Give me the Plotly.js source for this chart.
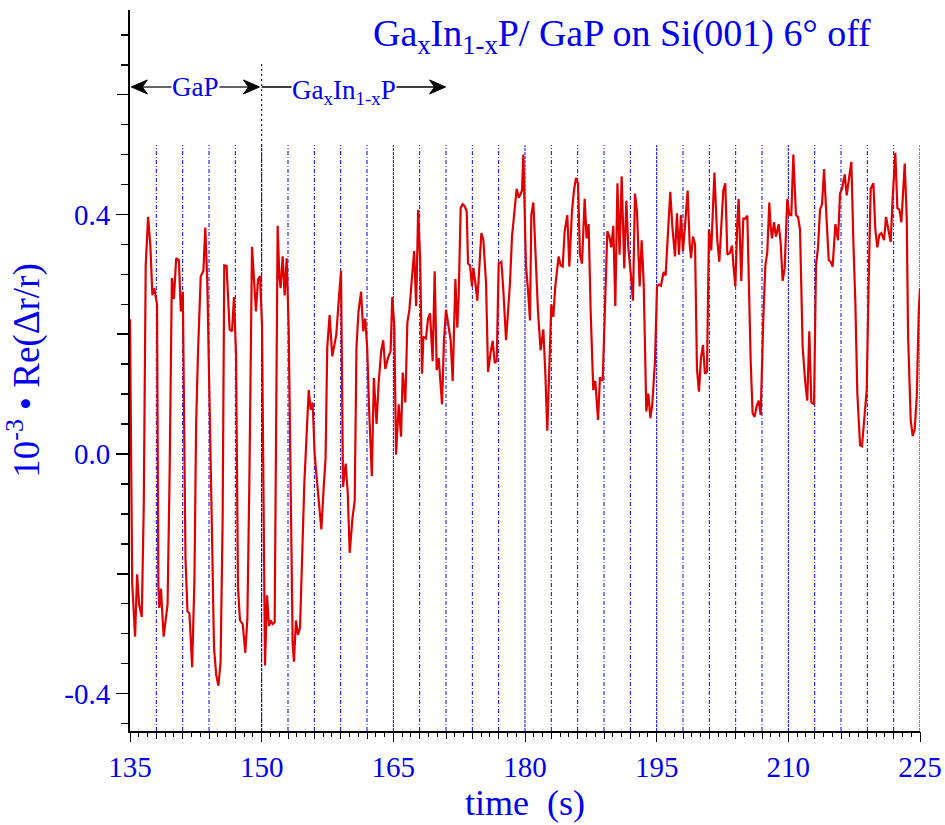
<!DOCTYPE html>
<html>
<head>
<meta charset="utf-8">
<script src="https://cdn.plot.ly/plotly-3.0.1.min.js"></script>
<style>html,body{margin:0;padding:0;background:#fff;}#chart{width:945px;height:825px;}</style>
</head>
<body>
<div id="chart"></div>
<script>
// time (s)
const timeS = [
135.00,135.25,135.58,135.81,136.04,136.34,136.57,136.79,137.06,137.32,137.55,137.77,138.08,138.23,138.34,138.53,138.83,139.28,139.51,139.77,
140.00,140.26,140.57,140.79,141.02,141.32,141.55,141.77,142.08,142.34,142.53,142.75,143.06,143.36,143.58,143.81,144.34,144.57,144.82,145.07,
145.32,145.55,145.74,146.00,146.35,146.62,146.85,147.08,147.30,147.53,147.84,148.14,148.37,148.59,148.90,149.13,149.35,149.58,149.81,150.04,
150.38,150.61,150.84,151.03,151.25,151.48,151.82,152.01,152.16,152.39,152.62,152.85,153.08,153.53,153.68,153.91,154.14,154.37,154.86,155.36,
155.58,155.81,156.04,156.27,156.57,156.80,157.05,157.28,157.47,157.74,158.04,158.27,158.50,158.81,159.04,159.27,159.57,159.80,160.03,160.34,
160.60,160.80,161.03,161.33,161.56,161.79,162.02,162.25,162.55,162.78,163.09,163.32,163.62,163.85,164.08,164.39,164.69,164.88,165.11,165.31,
165.61,165.88,166.07,166.37,166.60,166.83,167.14,167.37,167.60,167.83,168.06,168.27,168.42,168.72,168.95,169.18,169.48,169.71,169.94,170.17,
170.55,170.77,171.00,171.23,171.53,171.76,172.07,172.29,172.45,172.67,172.90,173.13,173.36,173.51,173.74,173.96,174.12,174.34,174.57,175.03,
175.26,175.56,175.79,176.09,176.32,176.55,176.78,177.00,177.31,177.53,177.84,178.07,178.29,178.52,178.83,179.05,179.30,179.45,179.66,179.81,
180.11,180.34,180.57,180.72,180.95,181.17,181.48,181.78,182.09,182.31,182.54,182.77,183.00,183.23,183.45,183.83,184.06,184.29,184.52,184.82,
185.05,185.35,185.58,185.81,186.04,186.26,186.49,186.80,187.02,187.25,187.48,187.78,188.01,188.32,188.54,188.85,189.15,189.38,189.61,189.83,
190.06,190.29,190.53,190.78,191.01,191.31,191.54,191.77,192.07,192.30,192.53,192.76,193.06,193.29,193.52,193.82,194.05,194.28,194.50,194.81,
195.04,195.26,195.49,195.79,196.02,196.33,196.55,196.78,197.09,197.31,197.54,197.77,198.00,198.23,198.53,198.76,198.91,199.14,199.37,199.59,
199.82,200.05,200.28,200.50,200.73,200.96,201.22,201.58,201.91,202.14,202.44,202.59,202.82,203.05,203.35,203.58,203.73,203.96,204.19,204.34,
204.64,204.87,205.10,205.33,205.71,205.93,206.16,206.39,206.62,206.85,207.15,207.38,207.60,207.83,207.98,208.14,208.36,208.59,208.90,209.12,
209.35,209.58,209.88,210.11,210.34,210.57,210.87,211.10,211.33,211.63,211.93,212.16,212.39,212.62,212.93,213.15,213.38,213.61,213.84,214.07,
214.29,214.60,214.82,215.05,215.36,215.66,215.89,216.12,216.42,216.65,216.95,217.18,217.41,217.64,217.86,218.17,218.39,218.62,218.93,219.15,
219.38,219.69,219.91,220.14,220.37,220.60,220.90,221.13,221.43,221.66,221.89,222.19,222.42,222.65,222.88,223.03,223.26,223.49,223.64,223.94,
224.17,224.40,224.63,224.86,225.00
];
// 10^-3 * Re(dr/r)
const reflectance = [
0.225,-0.216,-0.305,-0.201,-0.251,-0.272,-0.084,0.315,0.396,0.348,0.265,0.277,0.250,-0.222,-0.257,-0.225,-0.305,-0.251,-0.037,0.294,
0.259,0.327,0.324,0.238,0.271,-0.174,-0.263,-0.266,-0.356,-0.210,0.047,0.172,0.297,0.306,0.378,0.285,-0.132,-0.323,-0.369,-0.387,
-0.347,-0.114,0.315,0.314,0.208,0.205,0.262,0.166,-0.222,-0.278,-0.284,-0.332,-0.275,-0.055,0.346,0.285,0.238,0.291,0.297,0.214,
-0.353,-0.236,-0.287,-0.278,-0.284,-0.281,0.381,0.297,0.277,0.330,0.265,0.327,0.208,-0.317,-0.347,-0.278,-0.302,-0.290,-0.049,0.107,
0.074,0.086,-0.001,-0.040,-0.090,-0.126,-0.060,-0.007,0.178,0.232,0.163,0.184,0.199,0.262,0.306,-0.055,-0.016,-0.063,-0.165,-0.108,
-0.078,0.178,0.238,0.271,0.205,0.226,0.178,0.071,-0.037,0.127,0.050,0.118,0.172,0.190,0.142,0.160,0.172,0.262,0.214,-0.001,
0.083,0.029,0.136,0.086,0.220,0.241,0.297,0.339,0.247,0.408,0.321,0.134,0.196,0.193,0.226,0.235,0.155,0.305,0.140,0.160,
0.083,0.190,0.241,0.220,0.190,0.122,0.292,0.211,0.265,0.411,0.417,0.414,0.405,0.318,0.315,0.280,0.311,0.286,0.256,0.369,
0.357,0.286,0.137,0.170,0.189,0.152,0.155,0.318,0.321,0.274,0.190,0.238,0.286,0.363,0.405,0.443,0.428,0.432,0.440,0.500,
0.315,0.274,0.223,0.399,0.420,0.345,0.238,0.173,0.208,0.137,0.039,0.143,0.250,0.229,0.280,0.330,0.315,0.313,0.372,0.399,
0.313,0.405,0.440,0.461,0.452,0.333,0.318,0.426,0.360,0.384,0.238,0.107,0.122,0.057,0.128,0.122,0.250,0.372,0.363,0.345,
0.381,0.247,0.452,0.333,0.464,0.310,0.423,0.345,0.298,0.256,0.435,0.405,0.280,0.357,0.286,0.071,0.101,0.060,0.083,0.155,
0.280,0.283,0.281,0.304,0.298,0.381,0.438,0.381,0.330,0.402,0.333,0.399,0.339,0.381,0.440,0.351,0.327,0.363,0.351,0.143,
0.104,0.161,0.182,0.134,0.137,0.375,0.340,0.470,0.357,0.321,0.390,0.440,0.452,0.333,0.336,0.348,0.318,0.280,0.387,0.426,
0.289,0.393,0.393,0.398,0.155,0.068,0.062,0.080,0.089,0.065,0.226,0.315,0.336,0.420,0.381,0.360,0.387,0.363,0.384,0.354,
0.289,0.310,0.426,0.399,0.399,0.500,0.399,0.396,0.375,0.179,0.119,0.089,0.205,0.086,0.083,0.315,0.345,0.408,0.417,0.476,
0.411,0.324,0.321,0.313,0.384,0.357,0.435,0.443,0.467,0.432,0.464,0.488,0.354,0.250,0.101,0.015,0.013,0.054,0.107,0.286,
0.443,0.452,0.375,0.345,0.366,0.369,0.357,0.396,0.369,0.354,0.429,0.503,0.411,0.408,0.387,0.429,0.485,0.393,0.199,0.057,
0.030,0.042,0.095,0.238,0.277
];
// growth-period markers (s)
const markerTimes = [138,141,144,147,150,153,156,159,162,165,168,171,174,177,180,183,186,189,192,195,198,201,204,207,210,213,216,219,222,225];
const layerSwitchTime = 150;
const xTickVals = [135,150,165,180,195,210,225];
const xTickText = ['135','150','165','180','195','210','225'];
const yTickVals = [-0.4,0.0,0.4];
const yTickText = ['-0.4','0.0','0.4'];

const BLUE = '#0000ee';
const FONT = 'Liberation Serif, Times New Roman, serif';
const xMin = 135, xMax = 225;
const yMin = -0.4626, yMax = 0.7415;
const markerTop = 0.516, arrowY = 0.613;

const shapes = [];
markerTimes.forEach(t => {
  shapes.push({type:'line', xref:'x', yref:'y', x0:t, x1:t, y0:yMin, y1:markerTop,
    line:{color:'#0000ff', width:1, dash: (t % 15 === 0) ? '3px,1px' : '4px,2px,1px,2px'}, layer:'below'});
});
shapes.push({type:'line', xref:'x', yref:'y', x0:layerSwitchTime, x1:layerSwitchTime, y0:yMin, y1:0.655,
  line:{color:'#000', width:1, dash:'2px,3px'}, layer:'below'});
// arrow shafts
shapes.push({type:'line', xref:'x', yref:'y', x0:135.4, x1:149.4, y0:arrowY, y1:arrowY, line:{color:'#666', width:2}});
shapes.push({type:'line', xref:'x', yref:'y', x0:150, x1:170.5, y0:arrowY, y1:arrowY, line:{color:'#000', width:1.5}});
// arrow heads (pixel-sized chevrons anchored at the tips)
function head(tipX, dir) {
  const L = 16 * dir, N = 11 * dir;
  return {type:'path', xref:'x', yref:'y', xsizemode:'pixel', ysizemode:'pixel', xanchor:tipX, yanchor:arrowY,
    path:`M0,0 L${-L},7 L${-N},0 L${-L},-7 Z`, fillcolor:'#000', line:{color:'#000', width:1}};
}
shapes.push(head(135.15, -1));
shapes.push(head(149.75, 1));
shapes.push(head(170.95, 1));

const annotations = [
  {xref:'paper', yref:'paper', x:0.623, y:1.0, xanchor:'center', yanchor:'top', showarrow:false,
   text:'Ga<sub>x</sub>In<sub>1-x</sub>P/ GaP on Si(001) 6° off', font:{family:FONT, size:38, color:BLUE}},
  {xref:'x', yref:'y', x:142.5, y:arrowY, showarrow:false, text:'GaP', bgcolor:'#fff', borderpad:0,
   font:{family:FONT, size:27, color:BLUE}},
  {xref:'x', yref:'y', x:159.4, y:arrowY, yshift:-5, showarrow:false, text:'Ga<sub>x</sub>In<sub>1-x</sub>P', bgcolor:'#fff', borderpad:0,
   font:{family:FONT, size:27, color:BLUE}}
];

const trace = {x: timeS, y: reflectance, type:'scatter', mode:'lines',
  line:{color:'#e00000', width:2.2}, hoverinfo:'skip'};
// carrier for the overlay tick axes (no visible data)
const tickCarrier = {x:[null], y:[null], xaxis:'x2', yaxis:'y2', type:'scatter', mode:'lines', hoverinfo:'skip', showlegend:false};

const layout = {
  width:945, height:825,
  margin:{l:130, r:25, t:10, b:94},
  paper_bgcolor:'#fff', plot_bgcolor:'#fff',
  showlegend:false,
  font:{family:FONT, color:BLUE},
  xaxis:{range:[xMin, xMax], showgrid:false, zeroline:false, showline:true, linecolor:'#000', linewidth:2,
    tickmode:'array', tickvals:xTickVals, ticktext:xTickText, ticks:'outside', ticklen:9, tickwidth:1, tickcolor:'#000',
    minor:{dtick:1, tick0:135, ticklen:4, tickwidth:1, tickcolor:'#000', ticks:'outside'},
    tickfont:{family:FONT, size:29, color:BLUE},
    title:{text:'time  (s)', font:{family:FONT, size:36, color:BLUE}, standoff:8}},
  xaxis2:{overlaying:'x', anchor:'y', side:'bottom', range:[xMin, xMax], showgrid:false, zeroline:false, showline:false,
    tickmode:'linear', tick0:135, dtick:3, ticks:'outside', ticklen:7, tickwidth:1, tickcolor:'#000', showticklabels:false},
  yaxis:{range:[yMin, yMax], showgrid:false, zeroline:false, showline:true, linecolor:'#000', linewidth:2,
    tickmode:'array', tickvals:yTickVals, ticktext:yTickText, ticks:'outside', ticklen:12, tickwidth:1.5, tickcolor:'#000',
    minor:{dtick:0.05, tick0:0, ticklen:7, tickwidth:1.5, tickcolor:'#000', ticks:'outside'},
    tickfont:{family:FONT, size:29, color:BLUE},
    title:{text:'10<sup>-3</sup> • Re(Δr/r)', font:{family:FONT, size:37, color:BLUE}, standoff:24}},
  yaxis2:{overlaying:'y', anchor:'x', side:'left', range:[yMin, yMax], showgrid:false, zeroline:false, showline:false,
    tickmode:'linear', tick0:0, dtick:0.2, ticks:'outside', ticklen:12, tickwidth:1.5, tickcolor:'#000', showticklabels:false},
  shapes: shapes,
  annotations: annotations
};

Plotly.newPlot('chart', [trace, tickCarrier], layout, {staticPlot:true, displayModeBar:false});
</script>
</body>
</html>
